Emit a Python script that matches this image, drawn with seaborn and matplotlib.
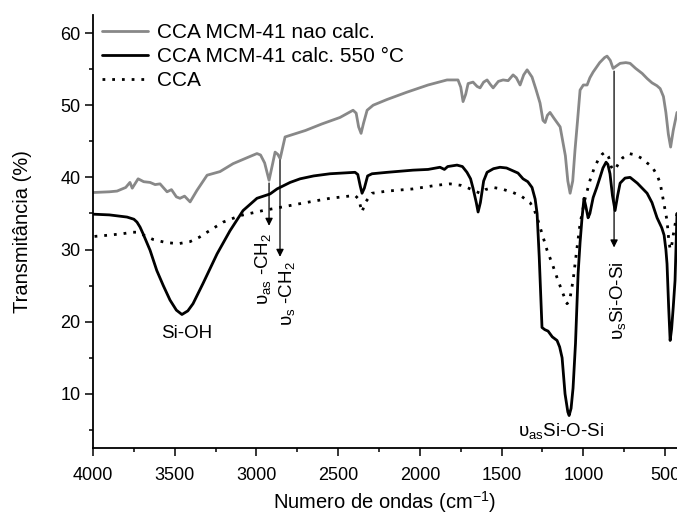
import matplotlib
matplotlib.use("Agg")
import matplotlib.pyplot as plt
import seaborn as sns

wn_nao_calc = [4000, 3900, 3853, 3800, 3774, 3760, 3724, 3690, 3651, 3620, 3590, 3547, 3520, 3490,
               3468, 3440, 3406, 3364, 3302, 3223, 3143, 3060, 2997, 2975, 2950, 2923, 2900, 2886,
               2870, 2855, 2825, 2700, 2600, 2489, 2409, 2390, 2375, 2360, 2345, 2323, 2286, 2200,
               2080, 1950, 1834, 1767, 1750, 1736, 1720, 1705, 1675, 1650, 1632, 1610, 1589, 1570,
               1552, 1520, 1491, 1460, 1430, 1410, 1387, 1365, 1344, 1314, 1290, 1265, 1247, 1234,
               1220, 1204, 1180, 1142, 1110, 1095, 1081, 1065, 1051, 1035, 1020, 1000, 977, 960,
               940, 900, 870, 855, 835, 818, 800, 775, 740, 714, 680, 640, 610, 580, 550, 530,
               510, 495, 480, 466, 450, 427]
t_nao_calc = [37.9, 38.0, 38.1, 38.6, 39.3, 38.5, 39.8, 39.4, 39.3, 39.0, 39.1, 38.0, 38.3, 37.3,
              37.1, 37.4, 36.6, 38.2, 40.3, 40.8, 41.9, 42.7, 43.3, 43.1, 42.0, 39.6, 42.0, 43.5,
              43.2, 42.6, 45.6, 46.5, 47.4, 48.3, 49.3, 48.9, 47.0, 46.1, 47.5, 49.3, 50.0, 50.8,
              51.8, 52.8, 53.5, 53.5, 52.5, 50.5, 51.5, 53.0, 53.2, 52.6, 52.4, 53.2, 53.5, 52.9,
              52.4, 53.3, 53.5, 53.4, 54.2, 53.8, 52.8, 54.2, 54.9, 53.9, 52.2, 50.3, 47.9, 47.6,
              48.6, 49.0, 48.2, 47.0, 43.0, 39.5, 37.8, 39.5, 43.8, 48.0, 52.1, 52.8, 52.8, 53.8,
              54.6, 55.9, 56.6, 56.8, 56.2, 55.1, 55.4, 55.8, 55.9, 55.8, 55.1, 54.4, 53.7, 53.1,
              52.7, 52.3, 51.2, 49.0, 46.0, 44.2, 46.5, 49.0]

wn_calc = [4000, 3900, 3792, 3750, 3731, 3712, 3694, 3651, 3610, 3570, 3529, 3490, 3456, 3420,
           3388, 3327, 3241, 3162, 3082, 2997, 2917, 2874, 2794, 2733, 2650, 2550, 2397, 2380,
           2365, 2354, 2340, 2320, 2293, 2200, 2042, 1950, 1877, 1850, 1830, 1773, 1740, 1712,
           1690, 1675, 1655, 1644, 1630, 1610, 1589, 1550, 1510, 1470, 1430, 1400, 1369, 1340,
           1314, 1295, 1283, 1270, 1253, 1236, 1216, 1190, 1161, 1145, 1130, 1112, 1095, 1087,
           1075, 1063, 1048, 1032, 1020, 1008, 996, 985, 971, 960, 940, 918, 898, 880, 861,
           850, 837, 822, 806, 790, 775, 745, 714, 670, 610, 580, 549, 520, 506, 495, 488,
           478, 469, 460, 450, 439, 427]
t_calc = [34.9, 34.8, 34.5, 34.2, 33.8, 33.1, 32.2, 29.9, 27.1, 25.0, 23.0, 21.6, 21.0, 21.5,
          22.5, 25.3, 29.4, 32.6, 35.4, 37.1, 37.7, 38.4, 39.3, 39.8, 40.2, 40.5, 40.7, 40.4,
          38.8, 37.8, 38.5, 40.2, 40.5, 40.7, 41.0, 41.1, 41.4, 41.1, 41.5, 41.7, 41.5, 40.7,
          39.8, 38.5, 36.5, 35.2, 36.5, 39.5, 40.7, 41.2, 41.4, 41.3, 40.9, 40.6, 39.8, 39.4,
          38.6, 37.0, 35.0, 29.0, 19.2, 18.9, 18.7, 17.9, 17.4, 16.5, 15.0, 10.0, 7.5, 7.0,
          8.0, 10.8, 17.0, 26.7, 31.0, 34.4, 37.1, 36.0, 34.4, 35.0, 37.2, 38.6, 40.0, 41.3, 42.1,
          41.8, 40.5, 37.5, 35.4, 37.5, 39.2, 39.9, 40.0, 39.2, 37.8, 36.5, 34.4, 33.0, 32.0, 30.0, 28.0,
          22.0, 17.4, 19.0, 22.0, 25.7, 35.0]

wn_cca = [4000, 3900, 3816, 3760, 3731, 3690, 3633, 3560, 3480, 3406, 3350, 3302, 3204, 3100,
          2960, 2794, 2700, 2550, 2397, 2375, 2354, 2335, 2293, 2200, 2042, 1900, 1816, 1750,
          1712, 1632, 1600, 1552, 1500, 1430, 1380, 1326, 1300, 1277, 1250, 1222, 1190, 1161,
          1130, 1100, 1085, 1063, 1040, 1020, 990, 959, 935, 910, 885, 867, 845, 830, 815,
          800, 788, 760, 720, 680, 640, 610, 580, 549, 530, 512, 500, 488, 478, 469, 460, 450, 427]
t_cca = [31.8, 32.0, 32.2, 32.4, 32.4, 32.0, 31.4, 31.0, 30.8, 31.1, 31.7, 32.4, 33.8, 34.7,
         35.4, 36.1, 36.5, 37.1, 37.5, 37.0, 35.2, 36.5, 37.8, 38.1, 38.4, 38.9, 39.1, 38.9,
         38.6, 37.8, 38.3, 38.6, 38.4, 37.9, 37.4, 36.5, 35.5, 34.0, 32.0, 29.9, 28.0, 26.1,
         24.2, 22.5, 22.8, 25.7, 30.0, 33.6, 37.0, 39.6, 41.2, 42.4, 43.2, 43.5, 42.8, 41.5, 41.0,
         41.3, 41.8, 42.7, 43.3, 43.1, 42.6, 42.0, 41.5, 40.3, 39.2, 37.0, 35.5, 34.0, 31.5, 30.0,
         30.5, 32.0, 35.0]

labels = ['CCA MCM-41 nao calc.', 'CCA MCM-41 calc. 550 °C', 'CCA']

sns.set_style("ticks")
plt.rcParams['font.family'] = ['Liberation Sans', 'DejaVu Sans']
plt.rcParams['mathtext.default'] = 'regular'
for k in ['text.color', 'axes.labelcolor', 'xtick.color', 'ytick.color', 'axes.edgecolor']:
    plt.rcParams[k] = 'black'

fig = plt.figure(figsize=(6.77, 5.15), dpi=100)
ax = fig.add_axes([0.1374, 0.1301, 0.8626, 0.8408])

sns.lineplot(x=wn_nao_calc, y=t_nao_calc, ax=ax, color='#888888', lw=2, label=labels[0],
             estimator=None, errorbar=None)
sns.lineplot(x=wn_calc, y=t_calc, ax=ax, color='black', lw=2, label=labels[1],
             estimator=None, errorbar=None)
sns.lineplot(x=wn_cca, y=t_cca, ax=ax, color='black', lw=2, linestyle=(0, (1, 2.5)),
             label=labels[2], estimator=None, errorbar=None)

ax.set_xlim(4000, 427)
ax.set_ylim(2.5, 62.5)
ax.set_xticks([4000, 3500, 3000, 2500, 2000, 1500, 1000, 500])
ax.set_xticks(range(3750, 400, -500), minor=True)
ax.set_yticks([10, 20, 30, 40, 50, 60])
ax.set_yticks(range(5, 65, 10), minor=True)
ax.tick_params(axis='both', which='major', labelsize=13, length=5.5, width=1.1, direction='out')
ax.tick_params(axis='both', which='minor', length=3, width=1.1, direction='out')
ax.tick_params(axis='x', which='major', pad=8)
sns.despine(ax=ax, top=True, right=True)
for sp in ['left', 'bottom']:
    ax.spines[sp].set_linewidth(1.3)

ax.set_xlabel('Numero de ondas (cm$^{-1}$)', fontsize=14.5, labelpad=4)
ax.set_ylabel('Transmitância (%)', fontsize=14.5, labelpad=20)

leg = ax.legend(loc='upper left', bbox_to_anchor=(-0.01, 1.015), frameon=False, fontsize=15,
                handlelength=2.2, handletextpad=0.45, labelspacing=0.25, borderaxespad=0.3)

# --- ANOTAÇÕES ---
arr = dict(arrowstyle='-|>', color='black', lw=0.9, mutation_scale=11)
ax.annotate('', xy=(2923, 32.9), xytext=(2923, 39.6), arrowprops=arr)
ax.annotate('', xy=(2856, 28.6), xytext=(2856, 42.8), arrowprops=arr)
ax.annotate('', xy=(812, 29.9), xytext=(812, 55.1), arrowprops=arr)

ax.text(3425, 18.3, 'Si-OH', fontsize=13.5, ha='center', va='center')
ax.text(2960, 27.3, 'υ$_{as}$ -CH$_2$', fontsize=13.5, rotation=90, ha='center', va='center')
ax.text(2813, 23.9, 'υ$_{s}$ -CH$_2$', fontsize=13.5, rotation=90, ha='center', va='center')
ax.text(790, 22.9, 'υ$_{s}$Si-O-Si', fontsize=13.5, rotation=90, ha='center', va='center')
ax.text(1136, 4.9, 'υ$_{as}$Si-O-Si', fontsize=13.5, ha='center', va='center')

plt.savefig('out.png', dpi=100)
